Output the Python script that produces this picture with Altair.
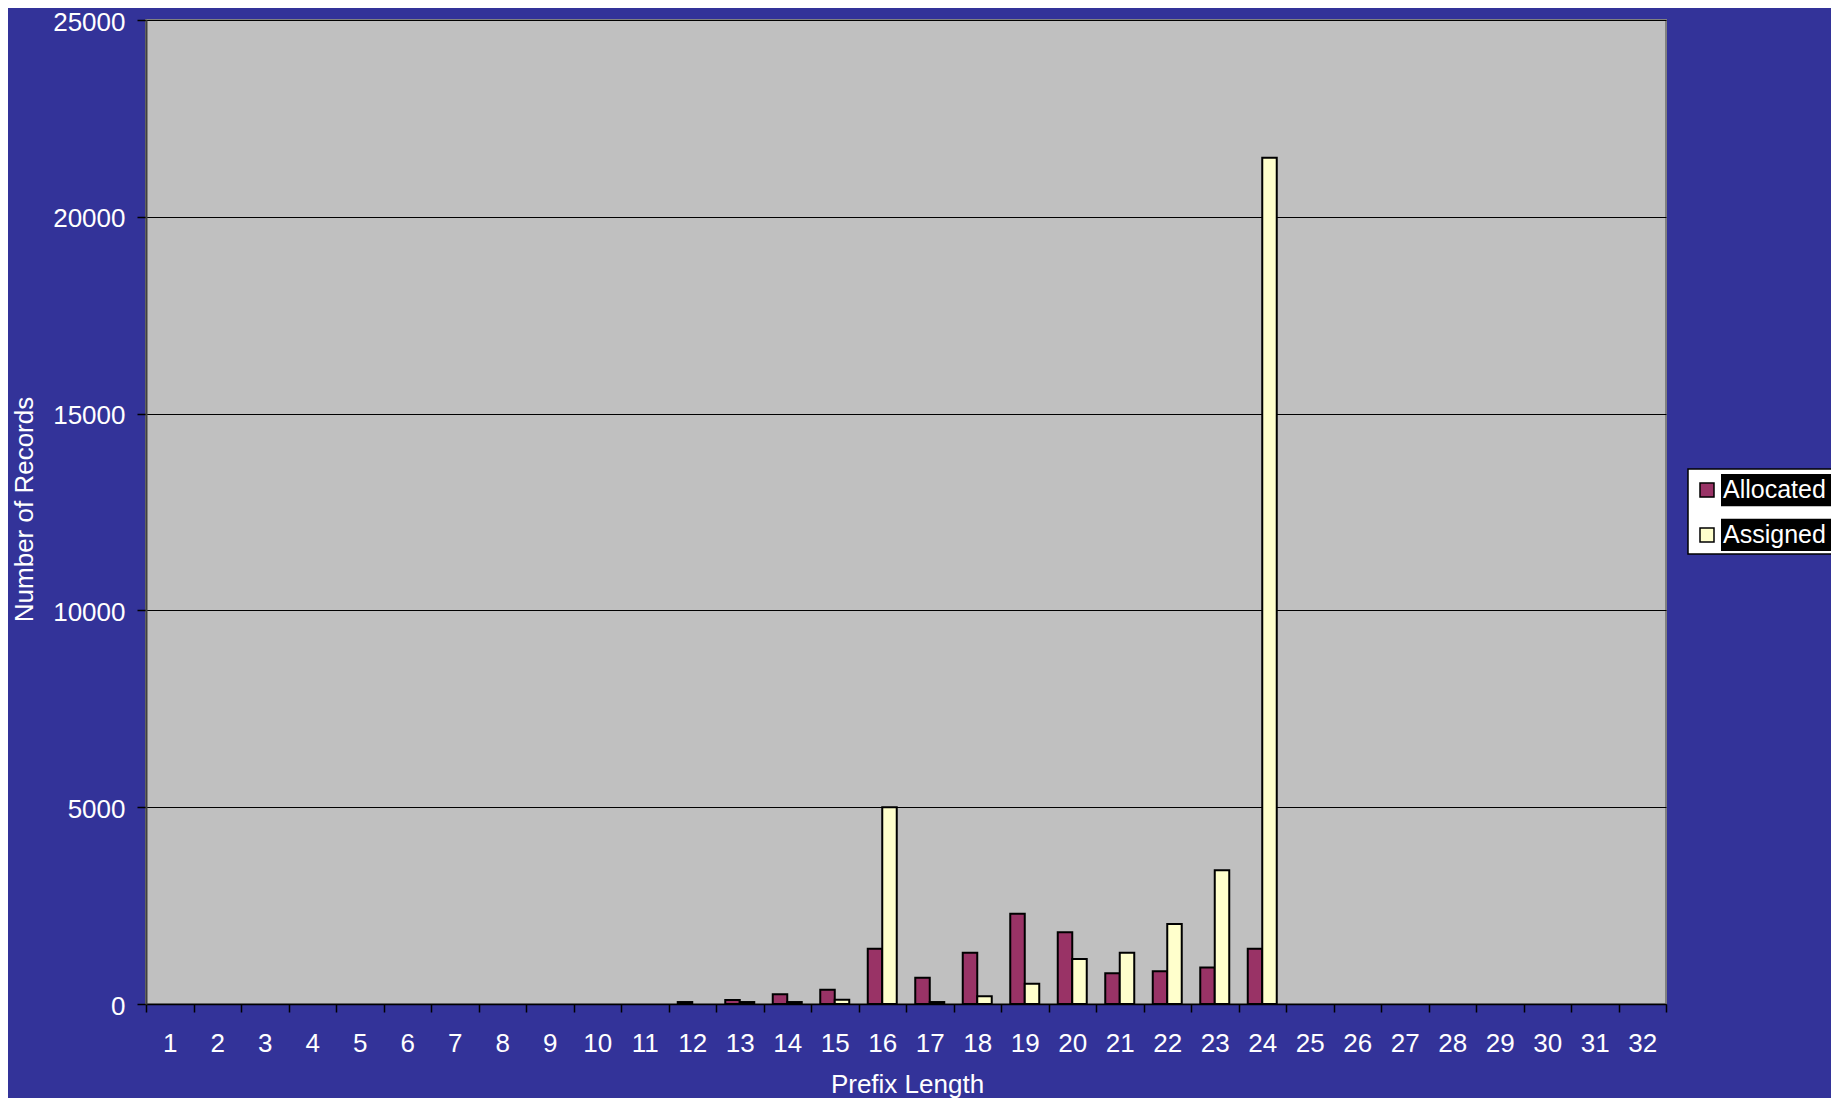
import altair as alt
import pandas as pd

# ---- data ----
prefix_lengths = list(range(1, 33))
allocated = [0, 0, 0, 0, 0, 0, 0, 0, 0, 0, 0, 50, 100, 250, 365, 1405,
             670, 1300, 2295, 1820, 780, 830, 930, 1405, 0, 0, 0, 0, 0, 0, 0, 0]
assigned = [0, 0, 0, 0, 0, 0, 0, 0, 0, 0, 0, 0, 50, 50, 110, 5000,
            50, 200, 515, 1143, 1300, 2030, 3395, 21500, 0, 0, 0, 0, 0, 0, 0, 0]
series_names = ["Allocated", "Assigned"]
series_colors = ["#993366", "#FFFFCC"]
y_ticks = [0, 5000, 10000, 15000, 20000, 25000]

FONT = "Liberation Sans"

rows = []
for p, a, s in zip(prefix_lengths, allocated, assigned):
    rows.append({"prefix": p, "series": "Allocated", "value": a})
    rows.append({"prefix": p, "series": "Assigned", "value": s})
df = pd.DataFrame(rows)

color_scale = alt.Scale(domain=series_names, range=series_colors)

bars = alt.Chart(df).mark_bar(stroke="black", strokeWidth=2).encode(
    x=alt.X(
        "prefix:O",
        scale=alt.Scale(domain=prefix_lengths, paddingInner=0, paddingOuter=0),
        axis=alt.Axis(
            title="Prefix Length",
            labelAngle=0,
            labelColor="white",
            labelFont=FONT,
            labelFontSize=26,
            labelPadding=18,
            tickBand="extent",
            tickColor="black",
            tickSize=8,
            tickWidth=1.5,
            domainColor="black",
            domainWidth=1.5,
            titleColor="white",
            titleFont=FONT,
            titleFontSize=26,
            titleFontWeight="normal",
            titleX=761,
            titleY=88,
            titleBaseline="alphabetic",
            titleAlign="center",
        ),
    ),
    xOffset=alt.XOffset(
        "series:N",
        scale=alt.Scale(domain=series_names, paddingInner=0, paddingOuter=0.638),
    ),
    y=alt.Y(
        "value:Q",
        scale=alt.Scale(domain=[0, 25000], nice=False),
        axis=alt.Axis(
            title="Number of Records",
            values=y_ticks,
            format="d",
            grid=True,
            gridColor="black",
            gridWidth=1,
            labelColor="white",
            labelFont=FONT,
            labelFontSize=26,
            labelPadding=12,
            labelOffset=2,
            tickColor="black",
            tickSize=9,
            tickWidth=1.5,
            domainColor="#404040",
            domainWidth=2,
            titleColor="white",
            titleFont=FONT,
            titleFontSize=26,
            titleFontWeight="normal",
            titleAngle=270,
            titleX=-114,
            titleY=489,
            titleBaseline="alphabetic",
            titleAlign="center",
        ),
    ),
    color=alt.Color("series:N", scale=color_scale, legend=None),
).transform_filter("datum.value > 0")

# ---- hand-built legend (white box, black label backgrounds) ----
leg_df = pd.DataFrame({"series": series_names})
frame_df = pd.DataFrame({"box": ["legend"]})
leg_y = alt.Y(
    "series:N",
    scale=alt.Scale(type="band", domain=series_names, range=[454, 531], paddingInner=0.28, paddingOuter=0),
    axis=None,
)

frame = alt.Chart(frame_df).mark_rect(fill="white", stroke="black", strokeWidth=1.5).encode(
    x=alt.value(1542), x2=alt.value(1700), y=alt.value(449), y2=alt.value(534)
)
label_bg = alt.Chart(leg_df).mark_rect(fill="black").encode(
    x=alt.value(1575), x2=alt.value(1691), y=leg_y
)
symbols = alt.Chart(leg_df).mark_square(size=196, opacity=1, stroke="black", strokeWidth=1.5).encode(
    x=alt.value(1561), y=leg_y,
    color=alt.Color("series:N", scale=color_scale, legend=None),
)
texts = alt.Chart(leg_df).mark_text(
    align="left", baseline="middle", color="white", font=FONT, fontSize=25
).encode(
    x=alt.value(1577), y=leg_y, text="series:N"
)

chart = (
    alt.layer(bars, frame, label_bg, symbols, texts)
    .resolve_scale(y="independent")
    .properties(
        width=1520,
        height=984,
        background="#333399",
        autosize=alt.AutoSizeParams(type="none"),
        padding={"left": 138, "top": 12, "right": 165, "bottom": 94},
    )
    .configure_view(fill="#C0C0C0", stroke="#808080", strokeWidth=2)
)

chart.save("out.html", embed_options={"renderer": "svg", "actions": False})
